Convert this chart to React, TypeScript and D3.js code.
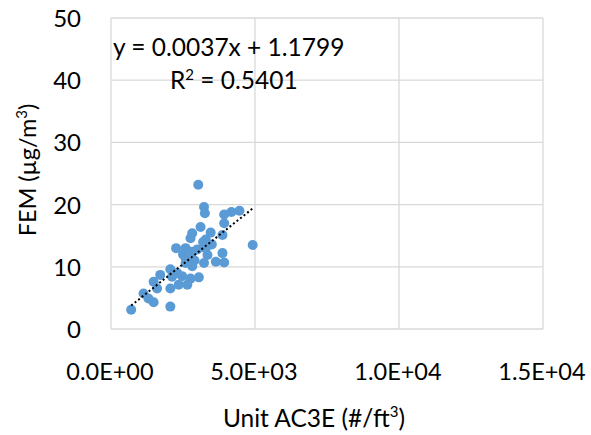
import React, { useRef, useEffect } from 'react';
import * as d3 from 'd3';

// Unit AC3E counts (#/ft3) and matching FEM readings (ug/m3)
const ac3e = [
  3030, 3230, 3260, 3930, 4180, 4460, 3930, 3110, 2820, 2760,
  3460, 3290, 3870, 4920, 2260, 2590, 2820, 3290, 3350, 3870,
  2590, 3230, 3640, 3930, 2820, 2590, 2060, 1710, 1480, 2120,
  2470, 2760, 3050, 2350, 2650, 2060, 1600, 1130, 1300, 1480,
  2060, 700, 2500, 3000, 3200, 2300, 2900, 3500,
];
const fem = [
  23.2, 19.6, 18.6, 18.4, 18.8, 19.0, 17.0, 16.4, 15.4, 14.6,
  15.5, 14.4, 15.1, 13.5, 13.0, 13.0, 12.4, 13.0, 11.9, 12.2,
  11.4, 10.6, 10.8, 10.7, 10.1, 10.6, 9.6, 8.7, 7.6, 8.4,
  8.5, 8.1, 8.3, 7.1, 7.1, 6.5, 6.5, 5.7, 4.9, 4.3,
  3.6, 3.1, 12.0, 12.8, 14.0, 9.0, 11.0, 13.6,
];
const xTicks = [0, 5000, 10000, 15000];
const yTicks = [0, 10, 20, 30, 40, 50];
const slope = 0.0037;
const intercept = 1.1799;

const FONT = 'Lato, "Open Sans", sans-serif';

const App = () => {
  const ref = useRef<SVGSVGElement>(null);

  useEffect(() => {
    const svg = d3.select(ref.current);
    svg.selectAll('*').remove();

    const x = d3.scaleLinear().domain([0, 15000]).range([111, 543]);
    const y = d3.scaleLinear().domain([0, 50]).range([329, 18]);

    // gridlines
    svg.append('g')
      .selectAll('line')
      .data(yTicks)
      .enter()
      .append('line')
      .attr('x1', x(0)).attr('x2', x(15000))
      .attr('y1', d => y(d)).attr('y2', d => y(d))
      .attr('stroke', '#d9d9d9').attr('stroke-width', 1.3);

    svg.append('g')
      .selectAll('line')
      .data(xTicks)
      .enter()
      .append('line')
      .attr('y1', y(0)).attr('y2', y(50))
      .attr('x1', d => x(d)).attr('x2', d => x(d))
      .attr('stroke', '#d9d9d9').attr('stroke-width', 1.3);

    // tick labels
    svg.append('g')
      .selectAll('text')
      .data(yTicks)
      .enter()
      .append('text')
      .attr('x', 81)
      .attr('y', d => y(d) + 9)
      .attr('text-anchor', 'end')
      .attr('font-family', FONT)
      .attr('font-size', 24)
      .attr('fill', '#000')
      .text(d => d);

    svg.append('g')
      .selectAll('text')
      .data(xTicks)
      .enter()
      .append('text')
      .attr('x', d => x(d) - 1)
      .attr('y', 380)
      .attr('text-anchor', 'middle')
      .attr('font-family', FONT)
      .attr('font-size', 23.5)
      .attr('fill', '#000')
      .text(d => d3.format('.1e')(d).replace('e', 'E').replace(/E([+-])(\d)$/, 'E$10$2'));

    // points
    const pts = ac3e.map((v, i) => [v, fem[i]]);
    svg.append('g')
      .selectAll('circle')
      .data(pts)
      .enter()
      .append('circle')
      .attr('cx', d => x(d[0]))
      .attr('cy', d => y(d[1]))
      .attr('r', 5)
      .attr('fill', '#5b9bd5');

    // trendline
    const x0 = d3.min(ac3e) as number;
    const x1 = d3.max(ac3e) as number;
    svg.append('line')
      .attr('x1', x(x0)).attr('y1', y(slope * x0 + intercept))
      .attr('x2', x(x1)).attr('y2', y(slope * x1 + intercept))
      .attr('stroke', '#000')
      .attr('stroke-width', 2)
      .attr('stroke-dasharray', '2 2.5');

    // equation
    svg.append('text')
      .attr('x', 113).attr('y', 56)
      .attr('font-family', FONT).attr('font-size', 24.5)
      .text(`y = ${slope}x + ${intercept}`);
    const r2 = svg.append('text')
      .attr('x', 170).attr('y', 89)
      .attr('font-family', FONT).attr('font-size', 24.5);
    r2.append('tspan').text('R');
    r2.append('tspan').attr('dy', -9).attr('font-size', 15).text('2');
    r2.append('tspan').attr('dy', 9).text(' = 0.5401');

    // axis titles
    const xt = svg.append('text')
      .attr('x', 314).attr('y', 427)
      .attr('text-anchor', 'middle')
      .attr('font-family', FONT).attr('font-size', 24.5);
    xt.append('tspan').text('Unit AC3E (#/ft');
    xt.append('tspan').attr('dy', -10).attr('font-size', 15).text('3');
    xt.append('tspan').attr('dy', 10).text(')');

    const yt = svg.append('text')
      .attr('transform', 'translate(36,170) rotate(-90)')
      .attr('text-anchor', 'middle')
      .attr('font-family', FONT).attr('font-size', 23.5);
    yt.append('tspan').text('FEM (µg/m');
    yt.append('tspan').attr('dy', -9).attr('font-size', 15).text('3');
    yt.append('tspan').attr('dy', 9).text(')');
  }, []);

  return (
    <svg
      ref={ref}
      width={591}
      height={435}
      style={{ position: 'absolute', left: 0, top: 0, background: '#fff' }}
    />
  );
};

export default App;
